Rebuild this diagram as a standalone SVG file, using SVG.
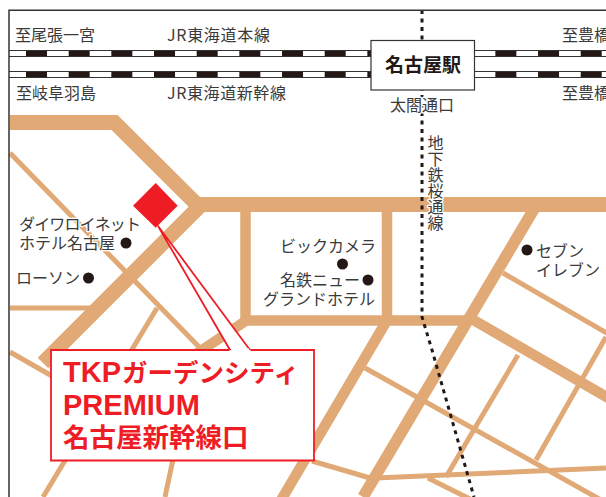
<svg xmlns="http://www.w3.org/2000/svg" width="606" height="497" viewBox="0 0 606 497">
<style>
.rd{fill:none;stroke:#E0A975;stroke-linejoin:miter}
.w5{stroke-width:5}
.w10{stroke-width:10.5}
.w15{stroke-width:15}
.t{font-family:"Noto Sans CJK JP","Liberation Sans",sans-serif;font-size:16px;fill:#3a3a3a;stroke:#fff;stroke-width:2.5px;paint-order:stroke;stroke-linejoin:round}
.n{font-family:"Noto Sans CJK JP",sans-serif;font-size:16px;fill:#3a3a3a}
.dot{fill:#231815}
.rail{stroke:#231815;stroke-width:5.4;stroke-dasharray:21 21.67;stroke-dashoffset:-17;fill:none}
.railb{stroke:#333;stroke-width:1;fill:none}
.red{font-family:"Liberation Sans","Noto Sans CJK JP",sans-serif;font-weight:700;font-size:29px;fill:#EE1C25}
.redj{font-family:"Noto Sans CJK JP",sans-serif;font-weight:700;font-size:26.5px;fill:#EE1C25}
.kana{font-family:"Noto Sans CJK JP",sans-serif;font-weight:700;font-size:25.5px;fill:#EE1C25}
</style>
<rect width="606" height="497" fill="#fff"/>
<g id="roads">
<path class="rd w5" d="M10 153L204 352"/>
<path class="rd w5" d="M10 308H92"/>
<path class="rd w5" d="M10 352L52 376"/>
<path class="rd w5" d="M157 308L43 497"/>
<path class="rd w5" d="M175 450L165 497"/>
<path class="rd w5" d="M503 273L610 335"/>
<path class="rd w5" d="M606 337L536 460"/>
<path class="rd w5" d="M518 355L446 477"/>
<path class="rd w5" d="M365 368L610 505"/>
<path class="rd w5" d="M376 478L606 468"/>
<path class="rd w5" d="M428 478L470 499"/>
<path class="rd w5" d="M312 461L370 478"/>
<path class="rd w10" d="M245.500 204V320"/>
<path class="rd w10" d="M387 204V320"/>
<path class="rd w10" d="M245 320.500H470"/>
<path class="rd w10" d="M250 318L190 358"/>
<path class="rd w10" d="M386 322L280 502"/>
<path class="rd" style="stroke-width:11.500" d="M537 204L363 497"/>
<path class="rd w10" d="M470 318L610 399"/>
<path class="rd w15" d="M10 122.500H114.500L197 204.500H606"/>
<path class="rd w15" d="M199 207L43 363"/>
</g>
<g id="connectors">
<path d="M422 10V317L432 350L474 497" fill="none" stroke="#231815" stroke-width="3" stroke-dasharray="4 4.500"/>
<path class="rail" d="M9 53.500H606"/>
<path class="rail" d="M9 74.500H606"/>
<path class="railb" d="M9 50.500H606M9 56.500H606M9 71.500H606M9 77.500H606"/>
<path d="M158 226L230 350H250Z" fill="#fff" stroke="#EE1C25" stroke-width="1.800"/>
</g>
<path id="frame" d="M9 497V10.300H606" fill="none" stroke="#333" stroke-width="1.500"/>
<g id="labels">
<text class="n" x="15" y="41">至尾張一宮</text>
<text class="n" x="167" y="41" textLength="103">JR東海道本線</text>
<text class="n" x="562" y="41">至豊橋</text>
<text class="n" x="16" y="99">至岐阜羽島</text>
<text class="n" x="167" y="99" textLength="119">JR東海道新幹線</text>
<text class="n" x="562" y="99">至豊橋</text>
<text class="t" x="390" y="111">太閤通口</text>
<text class="t" style="writing-mode:vertical-rl" x="435.500" y="135">地下鉄桜通線</text>
</g>
<g id="station-nagoya">
<rect x="371" y="40.500" width="103.500" height="49.500" fill="#fff" stroke="#333" stroke-width="1.200"/>
<text x="385" y="72" font-family="'Noto Sans CJK JP',sans-serif" font-weight="700" font-size="19" fill="#231815">名古屋駅</text>
</g>
<g id="hotel-daiwa">
<text class="t" x="19" y="230" textLength="122">ダイワロイネット</text>
<text class="t" x="19" y="249">ホテル名古屋</text>
<circle class="dot" cx="126" cy="243" r="5.500"/>
</g>
<g id="lawson">
<text class="t" x="16" y="284">ローソン</text>
<circle class="dot" cx="88.500" cy="278" r="5.500"/>
</g>
<g id="bic-camera">
<text class="t" x="280" y="252">ビックカメラ</text>
<circle class="dot" cx="342.500" cy="264" r="5.500"/>
</g>
<g id="meitetsu-hotel">
<text class="t" x="280" y="286">名鉄ニュー</text>
<circle class="dot" cx="368" cy="280" r="5.500"/>
<text class="t" x="263" y="305">グランドホテル</text>
</g>
<g id="seven-eleven">
<circle class="dot" cx="527" cy="250" r="5.500"/>
<text class="t" x="536" y="257">セブン</text>
<text class="t" x="536" y="276">イレブン</text>
</g>
<g id="tkp">
<path d="M155.700 183L177.700 205.700L155.700 227.700L133 205.700Z" fill="#EE1C25"/>
<path d="M229.500 350H51V460.500H314V350H250.500" fill="#fff" stroke="#EE1C25" stroke-width="1.800"/>
<path d="M231 350H249" stroke="#fff" stroke-width="3"/>
<text class="red" x="63" y="382">TKP<tspan class="kana" dx="1">ガーデンシティ</tspan></text>
<text class="red" x="63" y="415">PREMIUM</text>
<text class="redj" x="63" y="447">名古屋新幹線口</text>
</g>
</svg>
